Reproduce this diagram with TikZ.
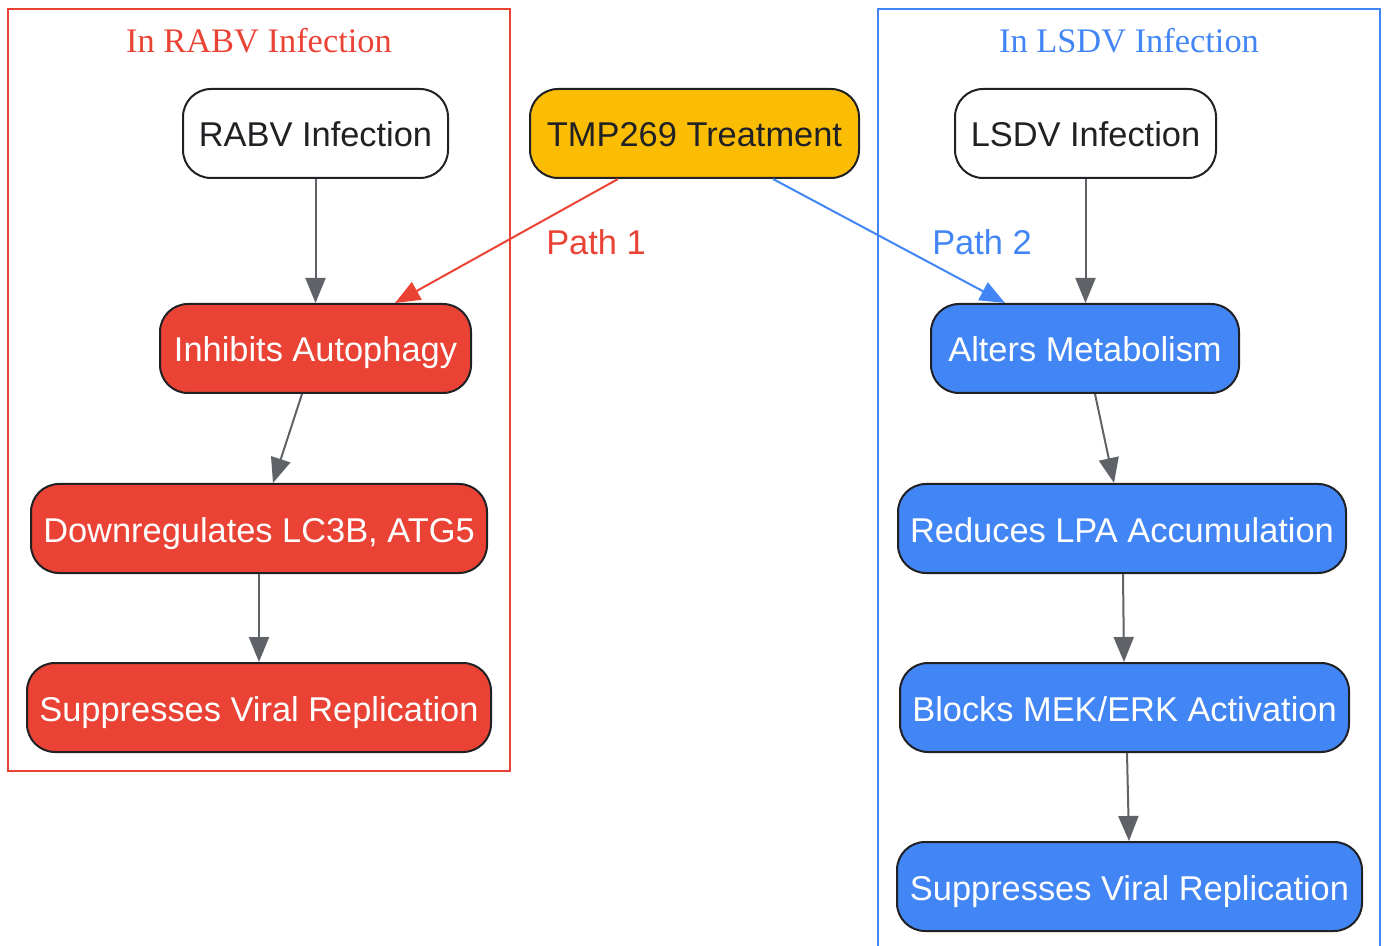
\documentclass[tikz,border=0pt]{standalone}
\usepackage{fontspec}
\setmainfont{Liberation Serif}
\newfontfamily\arialf{Liberation Sans}
\usetikzlibrary{arrows.meta,calc}
\definecolor{gred}{HTML}{EA4335}
\definecolor{gblue}{HTML}{4285F4}
\definecolor{gamber}{HTML}{FBBC04}
\definecolor{ggray}{HTML}{5F6368}
\definecolor{gdark}{HTML}{202124}
\tikzset{
  box/.style={draw=gdark, line width=1pt, rounded corners=14pt, minimum height=44.5pt, inner sep=0pt,
    text height=13.5pt, text depth=0pt,
    font=\arialf\fontsize{17.2}{20}\selectfont, text=gdark},
  redbox/.style={box, fill=gred, text=white},
  bluebox/.style={box, fill=gblue, text=white},
  ambox/.style={box, fill=gamber, text=gdark},
  whitebox/.style={box, fill=white},
  conn/.style={draw=ggray, line width=1pt, -{Triangle[length=12.5pt,width=10pt]}},
  rconn/.style={draw=gred, line width=1pt, -{Triangle[length=12.5pt,width=10pt]}},
  bconn/.style={draw=gblue, line width=1pt, -{Triangle[length=12.5pt,width=10pt]}},
  lbl/.style={font=\arialf\fontsize{17.2}{20}\selectfont, inner sep=0pt},
  ttl/.style={font=\fontsize{17.2}{20}\selectfont, inner sep=0pt},
}
\begin{document}
\begin{tikzpicture}[x=0.5pt,y=-0.5pt]
\useasboundingbox (0,0) rectangle (1387,946);
% clusters
\draw[gred, line width=1pt] (8,9) rectangle (510,771);
\draw[gblue, line width=1pt] (878,946) -- (878,9) -- (1380,9) -- (1380,946);
\node[ttl, text=gred] (t1) at (259,41) {In RABV Infection};
\node[ttl, text=gblue] (t2) at (1129,41) {In LSDV Infection};
% nodes
\node[whitebox, minimum width=132.5pt] (rabv) at (315.5,133.5) {RABV Infection};
\node[ambox, minimum width=164.5pt] (tmp) at (694.5,133.5) {TMP269 Treatment};
\node[whitebox, minimum width=130.5pt] (lsdv) at (1085.5,133.5) {LSDV Infection};
\node[redbox, minimum width=155.5pt] (inh) at (315.5,348.5) {Inhibits Autophagy};
\node[redbox, minimum width=228pt] (down) at (259,528.5) {Downregulates LC3B, ATG5};
\node[redbox, minimum width=232pt] (sup1) at (259,707.5) {Suppresses Viral Replication};
\node[bluebox, minimum width=154pt] (alt) at (1085,348.5) {Alters Metabolism};
\node[bluebox, minimum width=224pt] (red) at (1122,528.5) {Reduces LPA Accumulation};
\node[bluebox, minimum width=224.5pt] (blk) at (1124.5,707.5) {Blocks MEK/ERK Activation};
\node[bluebox, minimum width=232.5pt] (sup2) at (1129.5,886.5) {Suppresses Viral Replication};
% connectors
\draw[conn] (rabv.south) -- (inh.north);
\draw[conn] ($(inh.south)+(-13.5,0)$) -- ($(down.north)+(14,0)$);
\draw[conn] (down.south) -- (sup1.north);
\draw[conn] (lsdv.south) -- ($(alt.north)+(0.5,0)$);
\draw[conn] ($(alt.south)+(10,0)$) -- ($(red.north)+(-8,0)$);
\draw[conn] ($(red.south)+(1,0)$) -- ($(blk.north)+(-0.5,0)$);
\draw[conn] ($(blk.south)+(2.5,0)$) -- ($(sup2.north)+(-0.5,0)$);
\draw[rconn] ($(tmp.south)+(-76.5,0)$) -- ($(inh.north)+(79.5,0)$);
\draw[bconn] ($(tmp.south)+(78.5,0)$) -- ($(alt.north)+(-80,0)$);
\node[lbl, text=gred] (p1) at (596,242) {Path 1};
\node[lbl, text=gblue] (p2) at (982,242) {Path 2};
\end{tikzpicture}
\end{document}
